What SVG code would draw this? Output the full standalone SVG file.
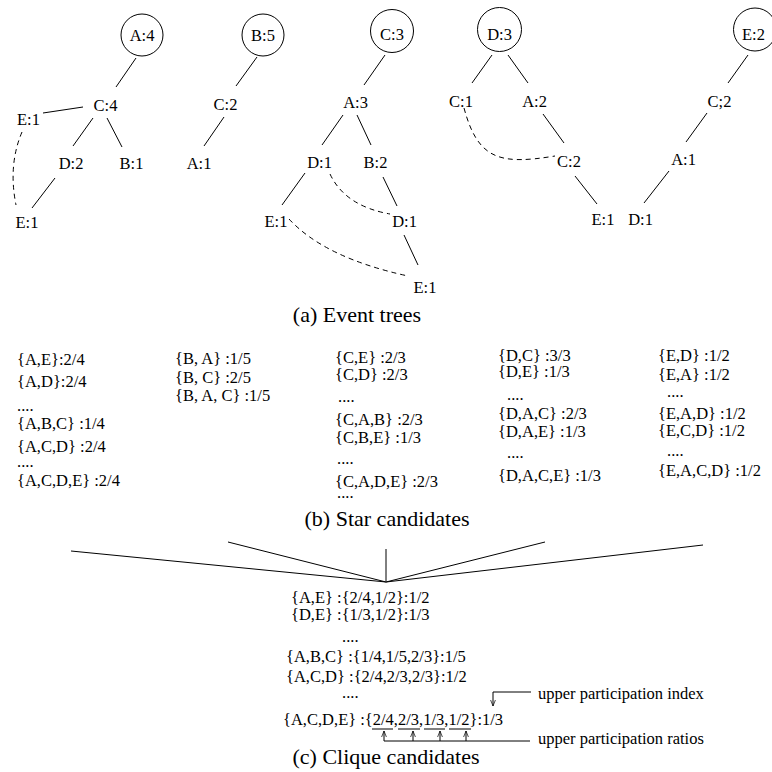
<svg xmlns="http://www.w3.org/2000/svg" width="772" height="772" viewBox="0 0 772 772">
<style>
text{font-family:"Liberation Serif","Times New Roman",serif;font-size:16.5px;fill:#000}
.n{text-anchor:middle}
.cap{font-size:22px;text-anchor:middle}
.ln{stroke:#000;stroke-width:1;fill:none}
.dash{stroke:#000;stroke-width:1;fill:none;stroke-dasharray:5,4}
.root{fill:#fff;stroke:#000;stroke-width:1}
</style>
<defs>
<marker id="arr" viewBox="0 0 10 10" refX="10" refY="5" markerWidth="7" markerHeight="6" markerUnits="userSpaceOnUse" orient="auto">
<path d="M0,1 L10,5 L0,9" fill="none" stroke="#000" stroke-width="1.2"/>
</marker>
</defs>
<rect width="772" height="772" fill="#fff"/>

<g id="connectors">
<!-- tree A -->
<line class="ln" x1="136" y1="58" x2="116" y2="87"/>
<line class="ln" x1="43" y1="113" x2="83" y2="107"/>
<line class="ln" x1="93" y1="118" x2="73" y2="146"/>
<line class="ln" x1="107" y1="118" x2="122" y2="147"/>
<line class="ln" x1="55" y1="178" x2="32" y2="208"/>
<path class="dash" d="M22 132 Q8 165 16 205"/>
<!-- tree B -->
<line class="ln" x1="257" y1="57" x2="236" y2="86"/>
<line class="ln" x1="224" y1="117" x2="204" y2="146"/>
<!-- tree C -->
<line class="ln" x1="385" y1="55" x2="364" y2="85"/>
<line class="ln" x1="343" y1="115" x2="322" y2="145"/>
<line class="ln" x1="357" y1="115" x2="371" y2="145"/>
<line class="ln" x1="305" y1="173" x2="282" y2="205"/>
<line class="ln" x1="383" y1="177" x2="397" y2="206"/>
<line class="ln" x1="404" y1="235" x2="418" y2="265"/>
<path class="dash" d="M330 174 Q345 206 390 214"/>
<path class="dash" d="M289 219 Q325 258 408 276"/>
<!-- tree D -->
<line class="ln" x1="492" y1="55" x2="472" y2="83"/>
<line class="ln" x1="508" y1="55" x2="528" y2="83"/>
<line class="ln" x1="543" y1="114" x2="564" y2="143"/>
<line class="ln" x1="575" y1="176" x2="597" y2="204"/>
<path class="dash" d="M464 108 C478 160 500 165 555 156"/>
<!-- tree E -->
<line class="ln" x1="748" y1="55" x2="728" y2="83"/>
<line class="ln" x1="707" y1="113" x2="686" y2="142"/>
<line class="ln" x1="669" y1="171" x2="644" y2="203"/>
<!-- fan -->
<line class="ln" x1="71" y1="551" x2="386" y2="582"/>
<line class="ln" x1="228" y1="542" x2="386" y2="582"/>
<line class="ln" x1="386" y1="549" x2="386" y2="581"/>
<line class="ln" x1="545" y1="542" x2="386" y2="582"/>
<line class="ln" x1="703" y1="545" x2="386" y2="582"/>
<!-- underlines -->
<line class="ln" x1="372" y1="729" x2="393" y2="729"/>
<line class="ln" x1="398" y1="729" x2="420" y2="729"/>
<line class="ln" x1="424" y1="729" x2="445" y2="729"/>
<line class="ln" x1="449" y1="729" x2="471" y2="729"/>
<!-- ratio arrows -->
<line class="ln" x1="384" y1="741" x2="530" y2="741"/>
<line class="ln" x1="384" y1="741" x2="384" y2="731" marker-end="url(#arr)"/>
<line class="ln" x1="413" y1="741" x2="413" y2="731" marker-end="url(#arr)"/>
<line class="ln" x1="440" y1="741" x2="440" y2="731" marker-end="url(#arr)"/>
<line class="ln" x1="466" y1="741" x2="466" y2="731" marker-end="url(#arr)"/>
<!-- index arrow -->
<path class="ln" d="M531 692 L493 692 L493 706" marker-end="url(#arr)"/>
</g>

<g id="treeA">
<g id="a_root"><circle class="root" cx="142" cy="35" r="21"/><text class="n" x="142" y="41">A:4</text></g>
<g id="a_c4"><text class="n" x="105.5" y="111">C:4</text></g>
<g id="a_e1"><text class="n" x="28.5" y="125">E:1</text></g>
<g id="a_d2"><text class="n" x="71" y="169">D:2</text></g>
<g id="a_b1"><text class="n" x="131.5" y="169">B:1</text></g>
<g id="a_e1b"><text class="n" x="27" y="228">E:1</text></g>
</g>

<g id="treeB">
<g id="b_root"><circle class="root" cx="263" cy="35" r="21"/><text class="n" x="263" y="41">B:5</text></g>
<g id="b_c2"><text class="n" x="225.5" y="110">C:2</text></g>
<g id="b_a1"><text class="n" x="199" y="169">A:1</text></g>
</g>

<g id="treeC">
<g id="c_root"><circle class="root" cx="392" cy="31" r="21.5"/><text class="n" x="392" y="40">C:3</text></g>
<g id="c_a3"><text class="n" x="355.5" y="108">A:3</text></g>
<g id="c_d1"><text class="n" x="319.5" y="168">D:1</text></g>
<g id="c_b2"><text class="n" x="375.5" y="168">B:2</text></g>
<g id="c_e1"><text class="n" x="276" y="227">E:1</text></g>
<g id="c_d1b"><text class="n" x="404.5" y="227">D:1</text></g>
<g id="c_e1b"><text class="n" x="425" y="293">E:1</text></g>
</g>

<g id="treeD">
<g id="d_root"><circle class="root" cx="499.5" cy="29.5" r="22"/><text class="n" x="499.5" y="40">D:3</text></g>
<g id="d_c1"><text class="n" x="461" y="107">C:1</text></g>
<g id="d_a2"><text class="n" x="534.5" y="107">A:2</text></g>
<g id="d_c2"><text class="n" x="569" y="167">C:2</text></g>
<g id="d_e1"><text class="n" x="603" y="225">E:1</text></g>
</g>

<g id="treeE">
<g id="e_root"><circle class="root" cx="755" cy="29.5" r="21.5"/><text class="n" x="753.5" y="40">E:2</text></g>
<g id="e_c2"><text class="n" x="719.5" y="107">C;2</text></g>
<g id="e_a1"><text class="n" x="683.5" y="165">A:1</text></g>
<g id="e_d1"><text class="n" x="640.5" y="225">D:1</text></g>
</g>

<text class="cap" x="357" y="322">(a) Event trees</text>

<g id="starA">
<text x="17" y="365">{A,E}:2/4</text>
<text x="17" y="387">{A,D}:2/4</text>
<text x="17" y="411">....</text>
<text x="17" y="429">{A,B,C} :1/4</text>
<text x="17" y="452">{A,C,D} :2/4</text>
<text x="17" y="467">....</text>
<text x="17" y="486">{A,C,D,E} :2/4</text>
</g>
<g id="starB">
<text x="175" y="364">{B, A} :1/5</text>
<text x="175" y="383">{B, C} :2/5</text>
<text x="175" y="401">{B, A, C} :1/5</text>
</g>
<g id="starC">
<text x="335" y="363">{C,E} :2/3</text>
<text x="335" y="380">{C,D} :2/3</text>
<text x="338" y="402">....</text>
<text x="335" y="425">{C,A,B} :2/3</text>
<text x="335" y="443">{C,B,E} :1/3</text>
<text x="337" y="464">....</text>
<text x="335" y="487">{C,A,D,E} :2/3</text>
<text x="337" y="498">....</text>
</g>
<g id="starD">
<text x="498" y="361">{D,C} :3/3</text>
<text x="498" y="377">{D,E} :1/3</text>
<text x="507" y="400">....</text>
<text x="498" y="419">{D,A,C} :2/3</text>
<text x="498" y="437">{D,A,E} :1/3</text>
<text x="507" y="458">....</text>
<text x="498" y="481">{D,A,C,E} :1/3</text>
</g>
<g id="starE">
<text x="658" y="361">{E,D} :1/2</text>
<text x="658" y="380">{E,A} :1/2</text>
<text x="667" y="397">....</text>
<text x="658" y="419">{E,A,D} :1/2</text>
<text x="658" y="436">{E,C,D} :1/2</text>
<text x="667" y="456">....</text>
<text x="658" y="476">{E,A,C,D} :1/2</text>
</g>

<text class="cap" x="387" y="526">(b) Star candidates</text>

<g id="clique">
<text x="291" y="603">{A,E} :{2/4,1/2}:1/2</text>
<text x="291" y="620">{D,E} :{1/3,1/2}:1/3</text>
<text x="342" y="642">....</text>
<text x="286" y="662">{A,B,C} :{1/4,1/5,2/3}:1/5</text>
<text x="286" y="682">{A,C,D} :{2/4,2/3,2/3}:1/2</text>
<text x="342" y="698">....</text>
<text x="283" y="725">{A,C,D,E} :{2/4,2/3,1/3,1/2}:1/3</text>
</g>

<g id="labels">
<text x="538" y="699">upper participation index</text>
<text x="538" y="744">upper participation ratios</text>
</g>

<text class="cap" x="386" y="764">(c) Clique candidates</text>
</svg>
